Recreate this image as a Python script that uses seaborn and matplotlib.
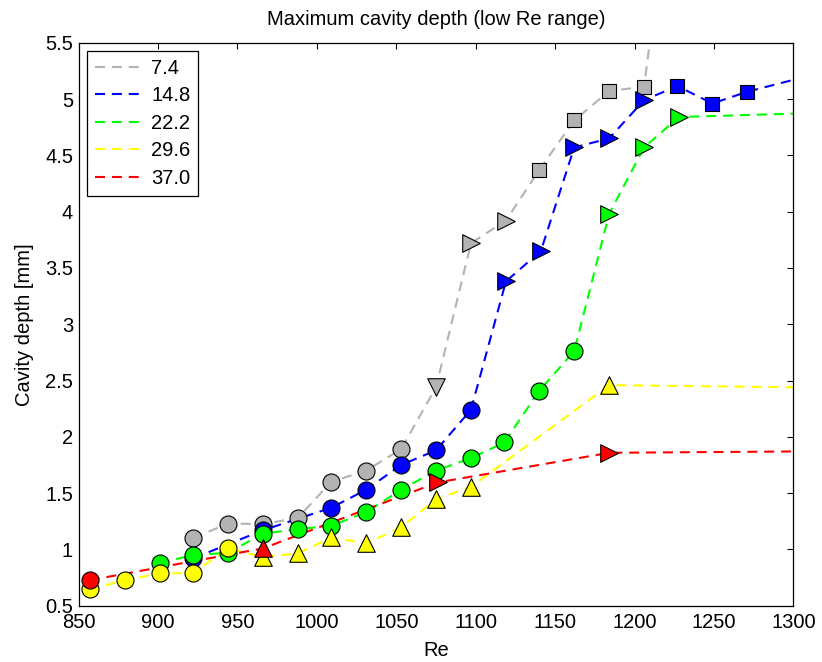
import numpy as np
import pandas as pd
import matplotlib
matplotlib.use("Agg")
import matplotlib.pyplot as plt
import seaborn as sns
from matplotlib.lines import Line2D

# ---------------- data ----------------
labels = ["7.4", "14.8", "22.2", "29.6", "37.0"]
colors = ["#b3b3b3", "#0000ff", "#00ff00", "#ffff00", "#ff0000"]

gray_x = [922, 944, 966, 988, 1009, 1031, 1053, 1075, 1097, 1119, 1140, 1162, 1184, 1206]
gray_y = [1.10, 1.23, 1.225, 1.28, 1.60, 1.70, 1.89, 2.44, 3.72, 3.92, 4.37, 4.81, 5.07, 5.11]
gray_m = ["o"] * 7 + ["v"] + [">"] * 2 + ["s"] * 4
gray_end = (1216, 6.2)

blue_x = [922, 966, 1009, 1031, 1053, 1075, 1097, 1119, 1141, 1162, 1184, 1206, 1227, 1249, 1271]
blue_y = [0.92, 1.17, 1.37, 1.53, 1.75, 1.88, 2.24, 3.38, 3.65, 4.57, 4.65, 4.99, 5.115, 4.96, 5.065]
blue_m = ["o"] * 7 + [">"] * 5 + ["s"] * 3
blue_end = (1300, 5.17)

green_x = [901, 922, 944, 966, 988, 1009, 1031, 1053, 1075, 1097, 1118, 1140, 1162, 1184, 1206, 1228]
green_y = [0.88, 0.95, 0.97, 1.14, 1.18, 1.21, 1.33, 1.53, 1.70, 1.81, 1.95, 2.41, 2.76, 3.98, 4.57, 4.84]
green_m = ["o"] * 13 + [">"] * 3
green_end = (1300, 4.87)

yellow_x = [857, 879, 901, 922, 944, 966, 988, 1009, 1031, 1053, 1075, 1097, 1184]
yellow_y = [0.645, 0.727, 0.787, 0.79, 1.009, 0.934, 0.964, 1.107, 1.053, 1.195, 1.444, 1.556, 2.459]
yellow_m = ["o"] * 5 + ["^"] * 8
yellow_end = (1300, 2.44)

red_x = [857, 966, 1076, 1184]
red_y = [0.727, 1.009, 1.595, 1.858]
red_m = ["o", "^", ">", ">"]
red_end = (1300, 1.87)

xticks = [850, 900, 950, 1000, 1050, 1100, 1150, 1200, 1250, 1300]
yticks = [0.5, 1, 1.5, 2, 2.5, 3, 3.5, 4, 4.5, 5, 5.5]
ytick_labels = ["0.5", "1", "1.5", "2", "2.5", "3", "3.5", "4", "4.5", "5", "5.5"]

series = [
    (gray_x, gray_y, gray_m, gray_end),
    (blue_x, blue_y, blue_m, blue_end),
    (green_x, green_y, green_m, green_end),
    (yellow_x, yellow_y, yellow_m, yellow_end),
    (red_x, red_y, red_m, red_end),
]

# ---------------- style ----------------
sns.set_theme(style="white")
plt.rcParams["font.family"] = ["Liberation Sans", "DejaVu Sans"]
plt.rcParams["text.color"] = "black"
plt.rcParams["axes.labelcolor"] = "black"
plt.rcParams["xtick.color"] = "black"
plt.rcParams["ytick.color"] = "black"
FS = 14.5

fig = plt.figure(figsize=(8.22, 6.62), dpi=100)
ax = fig.add_axes([0.0957, 0.085, 0.8695, 0.8505])

marker_sizes = {"o": 150, "v": 160, "^": 160, ">": 160, "s": 95}
DASH = (4.8, 3.3)

for (xs, ys, ms, end), lab, col in zip(series, labels, colors):
    line_df = pd.DataFrame({"Re": list(xs) + [end[0]], "depth": list(ys) + [end[1]]})
    sns.lineplot(data=line_df, x="Re", y="depth", ax=ax, color=col, lw=1.5,
                 sort=False, estimator=None, dashes=False, legend=False)
    ax.lines[-1].set_dashes(DASH)
    ax.lines[-1].set_zorder(2)
for (xs, ys, ms, end), lab, col in zip(series, labels, colors):
    pts = pd.DataFrame({"Re": xs, "depth": ys, "m": ms})
    for mk, sub in pts.groupby("m", sort=False):
        sns.scatterplot(data=sub, x="Re", y="depth", ax=ax, marker=mk,
                        s=marker_sizes[mk], color=col, edgecolor="black",
                        linewidth=0.8, legend=False, zorder=3)

ax.set_xlim(850, 1300)
ax.set_ylim(0.5, 5.5)
ax.set_xticks(xticks)
ax.set_xticklabels([str(t) for t in xticks])
ax.set_yticks(yticks)
ax.set_yticklabels(ytick_labels)
ax.tick_params(axis="both", direction="in", length=4.5, width=0.75, top=True, right=True,
               labelsize=FS, colors="black")
ax.tick_params(axis="x", pad=5)
ax.tick_params(axis="y", pad=4)
for sp in ax.spines.values():
    sp.set_color("black")
    sp.set_linewidth(0.9)

ax.set_xlabel("Re", fontsize=FS, labelpad=7, color="black")
ax.set_ylabel("Cavity depth [mm]", fontsize=FS, labelpad=8, color="black")
ax.set_title("Maximum cavity depth (low Re range)", fontsize=FS, pad=13, color="black")

handles = [Line2D([0], [0], color=c, lw=1.5, dashes=DASH) for c in colors]
leg = ax.legend(handles, labels, loc="upper left", fontsize=FS, frameon=True,
                fancybox=False, edgecolor="black", framealpha=1,
                handlelength=2.5, handletextpad=0.3, labelspacing=0.42,
                borderaxespad=0.4, borderpad=0.4)
leg.get_frame().set_linewidth(0.9)
for t in leg.get_texts():
    t.set_color("black")

fig.savefig("out.png", dpi=100)
